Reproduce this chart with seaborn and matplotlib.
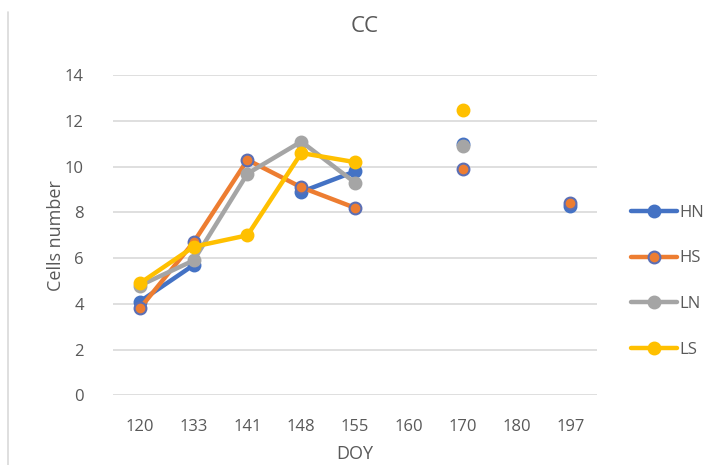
import numpy as np
import pandas as pd
import seaborn as sns
import matplotlib
matplotlib.use("Agg")
import matplotlib.pyplot as plt
from matplotlib.lines import Line2D

# Day-of-year sampling dates (categorical axis)
doy = ["120", "133", "141", "148", "155", "160", "170", "180", "197"]
nan = np.nan
hn = [4.1, 5.7, nan, 8.9, 9.8, nan, 11.0, nan, 8.3]
hs = [3.8, 6.7, 10.3, 9.1, 8.2, nan, 9.9, nan, 8.4]
ln = [4.8, 5.9, 9.7, 11.1, 9.3, nan, 10.9, nan, nan]
ls = [4.9, 6.5, 7.0, 10.6, 10.2, nan, 12.5, nan, nan]

series_names = ["HN", "HS", "LN", "LS"]
series_values = [hn, hs, ln, ls]
line_colors = ["#4472C4", "#ED7D31", "#A5A5A5", "#FFC000"]
edge_colors = ["#4472C4", "#5B6FB5", "#A5A5A5", "#FFC000"]

sns.set_theme(style="white")
plt.rcParams["font.family"] = ["Open Sans", "DejaVu Sans"]
text_color = "#595959"

fig = plt.figure(figsize=(7.06, 4.65), dpi=100)
ax = fig.add_axes([0.160, 0.150, 0.686, 0.688])

pos = np.arange(len(doy))
for name, vals, lc, ec in zip(series_names, series_values, line_colors, edge_colors):
    vals = np.asarray(vals, dtype=float)
    ok = ~np.isnan(vals)
    # split into contiguous runs so gaps stay open
    seg_id = np.cumsum(~ok)
    df = pd.DataFrame({"x": pos, "y": vals, "seg": seg_id})[ok]
    for _, seg in df.groupby("seg"):
        sns.lineplot(data=seg, x="x", y="y", ax=ax, color=lc, lw=3.2,
                     marker="o", markersize=8.5, markerfacecolor=lc,
                     markeredgecolor=ec, markeredgewidth=1.5,
                     estimator=None, sort=False, legend=False,
                     solid_capstyle="round")

ax.set_xlim(-0.5, len(doy) - 0.5)
ax.set_ylim(0, 14)
ax.set_yticks(range(0, 15, 2))
ax.set_xticks(pos)
ax.set_xticklabels(doy)
ax.grid(axis="y", color="#D9D9D9", lw=1.2)
ax.grid(axis="x", visible=False)
for sp in ax.spines.values():
    sp.set_visible(False)
ax.tick_params(axis="both", length=0, colors=text_color, labelsize=12)
ax.tick_params(axis="y", pad=21)
ax.tick_params(axis="x", pad=17)
ax.set_xlabel("DOY", color=text_color, fontsize=13, labelpad=7)
ax.set_ylabel("Cells number", color=text_color, fontsize=13, labelpad=0)
fig.text(0.517, 0.943, "CC", ha="center", va="center", color=text_color, fontsize=16)

handles = [Line2D([0], [0], color=lc, lw=3.2, marker="o", markersize=8.5,
                  markerfacecolor=lc, markeredgecolor=ec, markeredgewidth=1.5)
           for lc, ec in zip(line_colors, edge_colors)]
leg = fig.legend(handles, series_names, loc="center left",
                 bbox_to_anchor=(0.872, 0.395), frameon=False, fontsize=12,
                 handlelength=2.8, handletextpad=0.15, labelspacing=1.78,
                 labelcolor=text_color)

# thin frame edge on the left of the chart area
fig.add_artist(Line2D([0.012, 0.012], [0.0, 0.975], color="#D9D9D9", lw=1.2))

fig.savefig("out.png", dpi=100, facecolor="white")
